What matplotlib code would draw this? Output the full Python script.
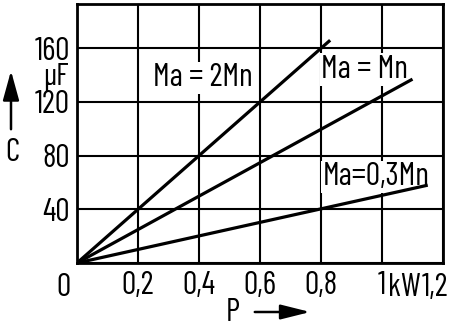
import matplotlib
matplotlib.use('Agg')
import matplotlib.pyplot as plt

# Capacitor size C over motor power P for three starting torques
power_kw = [0.0, 0.2, 0.4, 0.6, 0.8, 1.0, 1.2]
power_labels = ['', '0,2', '0,4', '0,6', '0,8', '1', '']
cap_ticks = [40, 80, 120, 160]
cap_labels = ['40', '80', '120', '160']

curve_names = ['Ma = 2Mn', 'Ma = Mn', 'Ma=0,3Mn']
curve_p = [[0.0, 0.83], [0.0, 1.1], [0.0, 1.15]]
curve_c = [[0.0, 166.0], [0.0, 137.0], [0.0, 58.0]]
label_pos = [(0.25, 138), (0.80, 144), (0.805, 64)]

plt.rcParams['font.family'] = ['Barlow Condensed', 'Roboto Condensed', 'DejaVu Sans']
fs = 23

fig = plt.figure(figsize=(4.56, 3.27), dpi=100)
W, H = 456, 327
ax = fig.add_axes([77 / W, (H - 263) / H, (443 - 77) / W, (263 - 4) / H])

ax.set_xlim(0, 1.2)
ax.set_ylim(0, 193)
ax.set_xticks(power_kw)
ax.set_xticklabels(power_labels, fontsize=fs)
ax.set_yticks([0] + cap_ticks)
ax.set_yticklabels([''] + cap_labels, fontsize=fs)
ax.tick_params(length=0, pad=5)
ax.tick_params(axis='x', pad=6)
ax.grid(True, color='black', linewidth=1.5)
for s in ax.spines.values():
    s.set_linewidth(2)

for p, c in zip(curve_p, curve_c):
    ax.plot(p, c, color='black', linewidth=2.3, solid_capstyle='butt', zorder=2)

# labels sit on white patches over the grid, under the curves
for name, (x, y) in zip(curve_names, label_pos):
    ax.text(x, y, name, fontsize=fs, ha='left', va='center', zorder=1.8,
            bbox=dict(facecolor='white', edgecolor='none', pad=1))

# corner zero, unit labels and axis arrows
fig.text(63 / W, 1 - 288 / H, '0', fontsize=fs, ha='center', va='center')
fig.text(388 / W, 1 - 288 / H, 'kW', fontsize=fs, ha='left', va='center')
fig.text(435 / W, 1 - 288 / H, '1,2', fontsize=fs, ha='center', va='center')
fig.text(69 / W, 1 - 77 / H, 'µF', fontsize=22, ha='right', va='center')
fig.text(12 / W, 1 - 153 / H, 'C', fontsize=fs, ha='center', va='center')
fig.text(233 / W, 1 - 313 / H, 'P', fontsize=fs, ha='center', va='center')

ax.annotate('', xy=(11, H - 68), xytext=(11, H - 132), xycoords='figure pixels',
            textcoords='figure pixels',
            arrowprops=dict(arrowstyle='-|>,head_length=1.2,head_width=0.33',
                            mutation_scale=15, lw=1.8, color='black'))
ax.annotate('', xy=(313, H - 312), xytext=(252, H - 312), xycoords='figure pixels',
            textcoords='figure pixels',
            arrowprops=dict(arrowstyle='-|>,head_length=1.2,head_width=0.3',
                            mutation_scale=15, lw=1.8, color='black'))

fig.savefig('out.png', dpi=100)
